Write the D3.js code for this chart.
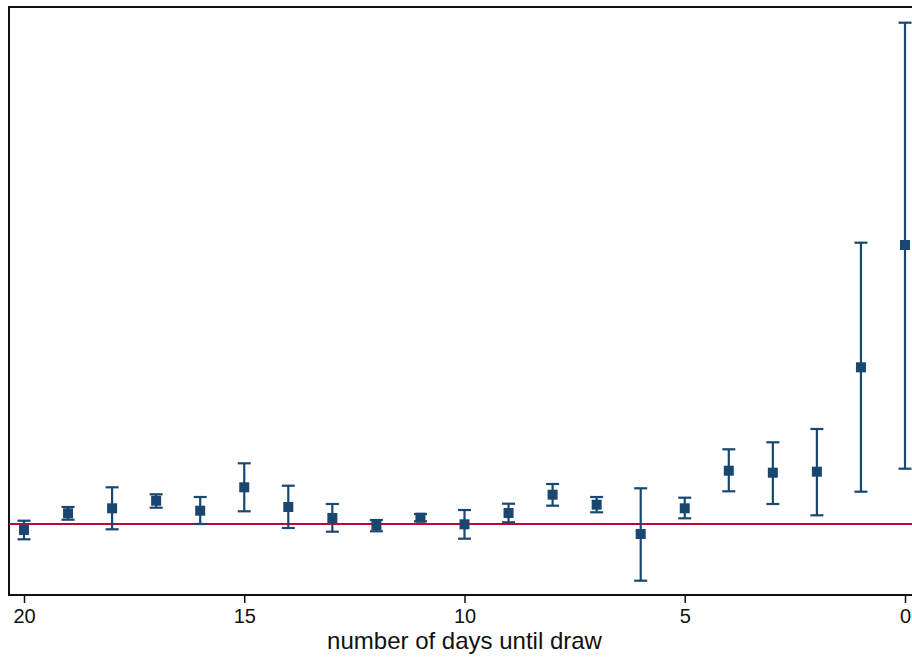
<!DOCTYPE html>
<html>
<head>
  <meta charset="utf-8">
  <script src="https://cdn.jsdelivr.net/npm/d3@7"></script>
  <style>
    body { margin: 0; background: #fff; }
    text { font-family: "Liberation Sans", Arial, sans-serif; }
  </style>
</head>
<body>
<script>
  // days until draw, point estimate, upper and lower bound of the CI
  let days = [20, 19, 18, 17, 16, 15, 14, 13, 12, 11, 10, 9, 8, 7, 6, 5, 4, 3, 2, 1, 0]
  let est = [-0.06, 0.107, 0.157, 0.233, 0.133, 0.367, 0.17, 0.06, -0.013, 0.063, -0.003,
    0.11, 0.293, 0.193, -0.1, 0.157, 0.533, 0.513, 0.523, 1.567, 2.79]
  let upper = [0.033, 0.17, 0.367, 0.297, 0.27, 0.607, 0.383, 0.2, 0.04, 0.1, 0.14,
    0.203, 0.4, 0.27, 0.357, 0.263, 0.747, 0.817, 0.95, 2.813, 5.013]
  let lower = [-0.153, 0.043, -0.053, 0.163, 0.0, 0.127, -0.04, -0.077, -0.073, 0.027, -0.147,
    0.017, 0.183, 0.117, -0.567, 0.057, 0.327, 0.2, 0.087, 0.323, 0.553]
  let xTicks = [20, 15, 10, 5, 0]
  let xTitle = "number of days until draw"

  let [w, h] = [912, 657]
  let navy = "#1a476f", red = "#c10534"

  let svg = d3.select("body").append("svg")
    .attr("width", w)
    .attr("height", h)

  let x = d3.scaleLinear().domain([20, 0]).range([24, 905])
  let y = d3.scaleLinear().domain([-0.71, 5.17]).range([595, 7])

  let data = days.map((d, i) => ({ day: d, est: est[i], hi: upper[i], lo: lower[i] }))

  // frame (right edge runs off the picture)
  svg.append("path")
    .attr("d", `M930,7H9V595H930`)
    .attr("fill", "none")
    .attr("stroke", "#111")
    .attr("stroke-width", 2)

  // zero line
  svg.append("line")
    .attr("x1", 9).attr("x2", w)
    .attr("y1", y(0)).attr("y2", y(0))
    .attr("stroke", red)
    .attr("stroke-width", 2.2)

  // x axis
  let xAxis = d3.axisBottom(x)
    .tickValues(xTicks)
    .tickSize(8)
    .tickPadding(6)
  let gx = svg.append("g")
    .attr("transform", `translate(0,595)`)
    .call(xAxis)
  gx.select(".domain").remove()
  gx.selectAll(".tick line").attr("stroke", "#111").attr("stroke-width", 1.5)
  gx.selectAll(".tick text")
    .attr("fill", "#111")
    .style("font-size", "20px")
    .style("font-family", "'Liberation Sans', Arial, sans-serif")

  svg.append("text")
    .attr("x", (x(20) + x(0)) / 2)
    .attr("y", 649)
    .attr("text-anchor", "middle")
    .attr("fill", "#111")
    .style("font-size", "24px")
    .text(xTitle)

  // error bars
  let bars = svg.append("g").attr("stroke", navy).attr("stroke-width", 2.2)
  bars.selectAll(".ci").data(data).join("line")
    .attr("x1", d => x(d.day)).attr("x2", d => x(d.day))
    .attr("y1", d => y(d.hi)).attr("y2", d => y(d.lo))
  bars.selectAll(".capHi").data(data).join("line")
    .attr("x1", d => x(d.day) - 6.5).attr("x2", d => x(d.day) + 6.5)
    .attr("y1", d => y(d.hi)).attr("y2", d => y(d.hi))
  bars.selectAll(".capLo").data(data).join("line")
    .attr("x1", d => x(d.day) - 6.5).attr("x2", d => x(d.day) + 6.5)
    .attr("y1", d => y(d.lo)).attr("y2", d => y(d.lo))

  // point estimates
  svg.append("g").selectAll("rect").data(data).join("rect")
    .attr("x", d => x(d.day) - 5)
    .attr("y", d => y(d.est) - 5)
    .attr("width", 10)
    .attr("height", 10)
    .attr("fill", navy)
</script>
</body>
</html>
